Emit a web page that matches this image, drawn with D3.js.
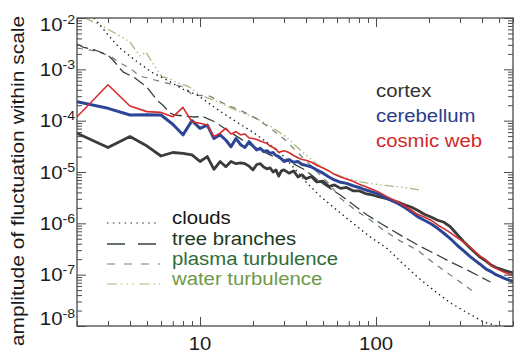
<!DOCTYPE html>
<html><head><meta charset="utf-8">
<script src="https://cdn.jsdelivr.net/npm/d3@7"></script>
<style>
html,body{margin:0;padding:0;background:#fff;}
svg{display:block;font-family:"Liberation Sans",Arial,Helvetica,sans-serif;}
</style></head>
<body>
<svg id="c" width="526" height="355"></svg>
<script>
// ---------- data ----------
const xDomain = [2, 600];
const yDomain = [1e-8, 1e-2];
const yTickExponents = [-2, -3, -4, -5, -6, -7, -8];
const xTickLabels = [10, 100];

const cortexX = [2,3,4,5,6,7,8,9,10,11,12,13,14,15,16,17,18,19,20,21,22,23,24,25,26,27,28,29,30,32,34,36,38,40,43,46,50,54,58,63,68,74,80,87,95,103,112,122,133,145,158,172,188,205,224,243,265,290,315,340,365,390,420,450,480,510,540,570,600];
const cortexY = [5.7e-5,3.0e-5,4.9e-5,3.2e-5,2.05e-5,2.4e-5,2.3e-5,2.15e-5,1.6e-5,2.0e-5,1.13e-5,1.6e-5,1.27e-5,1.6e-5,1.45e-5,1.5e-5,1.45e-5,1.3e-5,1.1e-5,1.4e-5,1.45e-5,1.25e-5,1.15e-5,1.2e-5,1.0e-5,1.1e-5,8.3e-6,1.05e-5,1.1e-5,9.5e-6,1.05e-5,8.0e-6,8.8e-6,7.4e-6,8.2e-6,6.4e-6,6.6e-6,5.2e-6,5.6e-6,4.8e-6,5.0e-6,4.3e-6,4.3e-6,3.8e-6,3.6e-6,3.3e-6,3.1e-6,2.85e-6,2.6e-6,2.3e-6,2.08e-6,1.8e-6,1.5e-6,1.33e-6,1.15e-6,1.05e-6,8.5e-7,6.0e-7,4.4e-7,3.4e-7,2.7e-7,2.2e-7,1.85e-7,1.55e-7,1.38e-7,1.28e-7,1.2e-7,1.14e-7,1.09e-7];

const cerebellumX = [2,3,4,5,6,7,8,9,10,11,12,13,14,15,16,17,18,19,20,21,22,23,24,25,26,27,28,29,30,32,34,36,38,40,43,46,50,54,58,63,68,74,80,87,95,103,112,122,133,145,158,172,188,205,224,243,265,290,315,340,365,390,420,450,480,510,540,570,600];
const cerebellumY = [2.34e-4,1.74e-4,1.29e-4,1.3e-4,1.29e-4,8.5e-5,5.3e-5,1.0e-4,7.1e-5,8.2e-5,4.5e-5,5.3e-5,4.2e-5,3.1e-5,4.5e-5,3.4e-5,3.0e-5,3.9e-5,3.2e-5,2.7e-5,2.9e-5,2.5e-5,2.6e-5,2.3e-5,2.4e-5,2.1e-5,2.0e-5,1.8e-5,1.6e-5,1.75e-5,1.55e-5,1.6e-5,1.4e-5,1.35e-5,1.25e-5,1.1e-5,9.5e-6,8.0e-6,7.0e-6,6.3e-6,6.0e-6,5.4e-6,5.0e-6,4.5e-6,4.1e-6,3.75e-6,3.2e-6,2.8e-6,2.45e-6,2.05e-6,1.68e-6,1.35e-6,1.15e-6,9.8e-7,8.0e-7,6.4e-7,5.0e-7,3.7e-7,2.9e-7,2.3e-7,1.9e-7,1.6e-7,1.3e-7,1.15e-7,1.0e-7,9.2e-8,8.4e-8,7.8e-8,7.3e-8];

const cosmicX = [2,3,4,5,6,7,8,9,10,11,12,13,14,15,16,17,18,19,20,21,22,23,24,25,26,27,28,29,30,32,34,36,38,40,43,46,50,54,58,63,68,74,80,87,95,103,112,122,133,145,158,172,188,205,224,243,265,290,315,340,365,390,420,450,480,510,540,570,600];
const cosmicY = [1.19e-4,5.0e-4,1.93e-4,1.5e-4,1.45e-4,1.19e-4,1.82e-4,9.5e-5,8.9e-5,8.2e-5,4.9e-5,5.7e-5,7.1e-5,5.5e-5,6.1e-5,5.3e-5,5.5e-5,4.6e-5,4.5e-5,4.3e-5,4.0e-5,3.8e-5,3.6e-5,3.2e-5,3.0e-5,2.8e-5,2.4e-5,2.5e-5,2.6e-5,2.4e-5,2.1e-5,1.9e-5,1.75e-5,1.7e-5,1.55e-5,1.35e-5,1.2e-5,1.05e-5,9.0e-6,8.0e-6,7.3e-6,6.6e-6,5.8e-6,5.2e-6,4.6e-6,4.1e-6,3.5e-6,3.0e-6,2.6e-6,2.2e-6,1.82e-6,1.5e-6,1.33e-6,1.15e-6,9.3e-7,7.9e-7,6.5e-7,5.2e-7,4.3e-7,3.5e-7,2.8e-7,2.3e-7,1.95e-7,1.5e-7,1.33e-7,1.2e-7,1.1e-7,1.03e-7,9.8e-8];

const cloudsX = [2.5,3,3.5,4.4,5.4,6.5,8,9.6,11.4,13.5,16.2,21,25,30,35,40,48,60,74,93,116,138,172,212,265,331,408,490];
const cloudsY = [1.0e-2,4.7e-3,2.6e-3,1.4e-3,8.5e-4,6.2e-4,4.1e-4,3.2e-4,2.1e-4,1.4e-4,9.4e-5,5.3e-5,3.4e-5,2.0e-5,1.1e-5,6.4e-6,3.4e-6,1.8e-6,1.0e-6,5.4e-7,3.2e-7,1.8e-7,9.0e-8,5.0e-8,2.8e-8,1.8e-8,1.2e-8,1.0e-8];

const treeX = [2,2.16,2.53,2.99,3.2,3.65,4.27,4.99,5.7,6.16,6.75,7.2,9.1,10.4,12.2,14.8,19.3,25,32.5,39.6,48.2,62.6,89,110,137.5,172,212,265,331,393,447];
const treeY = [3.1e-3,2.72e-3,2.38e-3,1.9e-3,1.52e-3,8.9e-4,6.8e-4,4.5e-4,2.5e-4,2.0e-4,1.41e-4,1.29e-4,1.18e-4,1.2e-4,9.4e-5,6.0e-5,3.36e-5,2.14e-5,1.57e-5,1.09e-5,6.4e-6,3.56e-6,1.45e-6,9.3e-7,5.9e-7,3.8e-7,2.64e-7,1.77e-7,1.23e-7,9.0e-8,7.2e-8];

const plasmaX = [2,2.53,3.08,3.5,4.0,4.55,5.54,6.75,8.2,9.0,11.4,13.9,16.9,20.6,25,30.5,37.1,45.2,54.9,62.6,76.3,92.8,110,137.5,172,212,265,324,358];
const plasmaY = [2.6e-3,2.28e-3,1.82e-3,1.33e-3,1.06e-3,7.4e-4,6.2e-4,5.2e-4,4.5e-4,3.16e-4,3.0e-4,2.1e-4,1.6e-4,1.13e-4,7.2e-5,4.2e-5,2.14e-5,1.09e-5,5.6e-6,3.1e-6,1.82e-6,1.16e-6,7.4e-7,4.5e-7,3.0e-7,1.69e-7,9.8e-8,6.0e-8,4.6e-8];

const waterX = [2.22,2.7,3.28,4.0,4.55,4.93,5.33,6.08,6.57,7.49,8.55,10,11.9,13.9,16.9,20.6,25,30.5,37.1,45.2,54.9,67,81.4,105.8,137.5,178.7];
const waterY = [1.0e-2,7.3e-3,5.1e-3,3.4e-3,1.82e-3,2.18e-3,1.39e-3,7.1e-4,6.8e-4,5.4e-4,4.7e-4,3.16e-4,2.53e-4,2.0e-4,1.48e-4,1.13e-4,7.9e-5,5.0e-5,2.68e-5,1.5e-5,1.0e-5,7.6e-6,6.4e-6,5.6e-6,5.1e-6,4.46e-6];

const seriesNames = ["clouds","tree branches","plasma turbulence","water turbulence","cortex","cerebellum","cosmic web"];

// ---------- drawing ----------
const svg = d3.select("#c");
const L = 77, R = 513, T = 18, B = 326;
const x = d3.scaleLog().domain(xDomain).range([L, R]);
const y = d3.scaleLog().domain(yDomain).range([B, T]);
const SX = 1.13;

svg.append("defs").append("clipPath").attr("id","clip")
  .append("rect").attr("x",L).attr("y",T).attr("width",R-L).attr("height",B-T);

const styles = {
  "clouds":            {color:"#1e1e1e", w:1.4, dash:"1.4,3.6", text:"#141414"},
  "tree branches":     {color:"#34433a", w:1.3, dash:"12,5",    text:"#1c3a22"},
  "plasma turbulence": {color:"#707c70", w:1.2, dash:"6,6",     text:"#2f6c3a"},
  "water turbulence":  {color:"#a6b87a", w:1.3, dash:"9,3,1.5,3,1.5,3,1.5,3", text:"#6f9a48"},
  "cortex":            {color:"#3b3b3b", w:2.8, dash:null,      text:"#333333"},
  "cerebellum":        {color:"#2c4597", w:3.0, dash:null,      text:"#2b3d8c"},
  "cosmic web":        {color:"#d62b2b", w:1.6, dash:null,      text:"#d02a2a"}
};
const seriesData = {
  "clouds": [cloudsX, cloudsY],
  "tree branches": [treeX, treeY],
  "plasma turbulence": [plasmaX, plasmaY],
  "water turbulence": [waterX, waterY],
  "cortex": [cortexX, cortexY],
  "cerebellum": [cerebellumX, cerebellumY],
  "cosmic web": [cosmicX, cosmicY]
};

const line = d3.line().x(d => x(d[0])).y(d => y(d[1]));
const plot = svg.append("g").attr("clip-path","url(#clip)");
const drawOrder = ["water turbulence","plasma turbulence","tree branches","clouds","cortex","cerebellum","cosmic web"];
drawOrder.forEach(name => {
  const [xs, ys] = seriesData[name];
  const pts = xs.map((v,i) => [v, ys[i]]);
  const s = styles[name];
  plot.append("path").datum(pts).attr("d", line)
    .attr("fill","none").attr("stroke", s.color).attr("stroke-width", s.w)
    .attr("stroke-linejoin","round")
    .attr("stroke-dasharray", s.dash);
});

// ---------- axes ----------
const axisColor = "#4a4a4a";
const xMaj = [10, 100];
const xMin = [2,3,4,5,6,7,8,9,20,30,40,50,60,70,80,90,200,300,400,500,600];
const yMaj = yTickExponents.map(e => Math.pow(10, e));
const yMin = [];
for (let e = -8; e < -2; e++) for (let k = 2; k <= 9; k++) yMin.push(k * Math.pow(10, e));

function styleAxis(g){ g.select(".domain").remove(); g.selectAll("line").attr("stroke",axisColor).attr("stroke-width",1); g.selectAll("text").remove(); }
svg.append("g").attr("transform",`translate(0,${B})`).call(d3.axisBottom(x).tickValues(xMaj).tickSize(-9)).call(styleAxis);
svg.append("g").attr("transform",`translate(0,${B})`).call(d3.axisBottom(x).tickValues(xMin).tickSize(-5)).call(styleAxis);
svg.append("g").attr("transform",`translate(0,${T})`).call(d3.axisTop(x).tickValues(xMaj).tickSize(-9)).call(styleAxis);
svg.append("g").attr("transform",`translate(0,${T})`).call(d3.axisTop(x).tickValues(xMin).tickSize(-5)).call(styleAxis);
svg.append("g").attr("transform",`translate(${L},0)`).call(d3.axisLeft(y).tickValues(yMaj).tickSize(-9)).call(styleAxis);
svg.append("g").attr("transform",`translate(${L},0)`).call(d3.axisLeft(y).tickValues(yMin).tickSize(-5)).call(styleAxis);
svg.append("g").attr("transform",`translate(${R},0)`).call(d3.axisRight(y).tickValues(yMaj).tickSize(-9)).call(styleAxis);
svg.append("g").attr("transform",`translate(${R},0)`).call(d3.axisRight(y).tickValues(yMin).tickSize(-5)).call(styleAxis);

svg.append("rect").attr("x",L).attr("y",T).attr("width",R-L).attr("height",B-T)
  .attr("fill","none").attr("stroke",axisColor).attr("stroke-width",1.3);

function label(px, py, anchor, color, size, rot){
  return svg.append("text")
    .attr("transform", `translate(${px},${py})` + (rot ? ` rotate(${rot})` : "") + ` scale(${SX},1)`)
    .attr("text-anchor", anchor).attr("fill", color).attr("font-size", size);
}

// y tick labels
yTickExponents.forEach(e => {
  const ty = y(Math.pow(10, e));
  let base = ty + 6.5;
  if (e === -2) base = ty + 12.5;
  if (e === -8) base = ty - 1;
  const t = label(75, base, "end", "#1a1a1a", 18);
  t.append("tspan").text("10");
  t.append("tspan").attr("dy", -7).attr("font-size", 12.5).text("-" + Math.abs(e));
});
// x tick labels
xTickLabels.forEach(v => {
  label(x(v), 350, "middle", "#1a1a1a", 18).text(String(v));
});

// y title
label(24, 181, "middle", "#1a1a1a", 18.6, -90).text("amplitude of fluctuation within scale");

// right legend
[["cortex",97],["cerebellum",122],["cosmic web",147]].forEach(([n,by]) => {
  label(376, by, "start", styles[n].text, 18).text(n);
});

// left legend
[["clouds",224],["tree branches",245],["plasma turbulence",265],["water turbulence",285]].forEach(([n,by]) => {
  const s = styles[n];
  svg.append("line").attr("x1",107).attr("x2",160).attr("y1",by-1).attr("y2",by-1)
    .attr("stroke", s.color).attr("stroke-width", n==="tree branches" ? 1.4 : 1.2)
    .attr("stroke-dasharray", n==="tree branches" ? "18,13" : n==="plasma turbulence" ? "8,9" : n==="water turbulence" ? "10,4,1.5,4,1.5,4,1.5,6" : "1.4,4.5");
  label(172, by, "start", s.text, 18).text(n);
});
</script>
</body></html>
